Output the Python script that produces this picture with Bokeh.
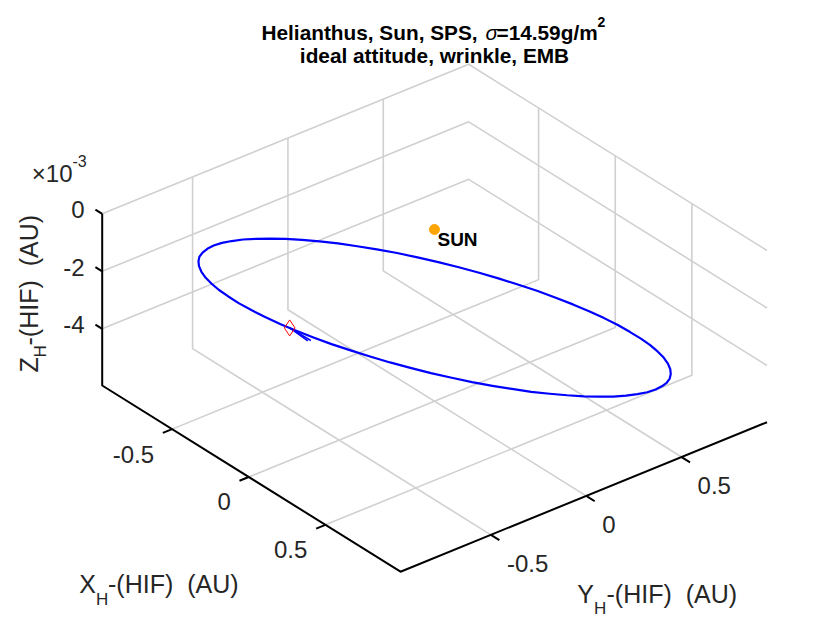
import numpy as np
from bokeh.plotting import figure
from bokeh.models import Range1d
from bokeh.embed import file_html
from bokeh.resources import INLINE
from bokeh.core.properties import value

# ---------------- data ----------------
title_line1_parts = ["Helianthus, Sun, SPS,", "σ", "=14.59g/m", "2"]
title_line2 = "ideal attitude, wrinkle, EMB"
axis_label_tail = "-(HIF)\u00a0 (AU)"

x_ticks = [-0.5, 0.0, 0.5]
x_tick_labels = ["-0.5", "0", "0.5"]
y_ticks = [-0.5, 0.0, 0.5]
y_tick_labels = ["-0.5", "0", "0.5"]
z_ticks_e3 = [0.0, -2.0, -4.0]          # units of 1e-3 AU
z_tick_labels = ["0", "-2", "-4"]

x_lim = [-0.956, 0.990]
y_lim = [-0.974, 0.948]
z_lim_e3 = [-5.97, 0.0]

# heliocentric trajectory (AU, z in 1e-3 AU)
orbit_x = [0.990, 0.986, 0.975, 0.957, 0.931, 0.899, 0.860, 0.814, 0.762, 0.705,
           0.642, 0.575, 0.504, 0.428, 0.350, 0.269, 0.186, 0.102, 0.017, -0.068,
           -0.152, -0.235, -0.316, -0.394, -0.470, -0.541, -0.608, -0.671, -0.728, -0.780,
           -0.826, -0.865, -0.897, -0.923, -0.941, -0.952, -0.956, -0.952, -0.941, -0.923,
           -0.897, -0.865, -0.826, -0.780, -0.728, -0.671, -0.608, -0.541, -0.470, -0.394,
           -0.316, -0.235, -0.152, -0.068, 0.017, 0.102, 0.186, 0.269, 0.350, 0.428,
           0.504, 0.575, 0.642, 0.705, 0.762, 0.814, 0.860, 0.899, 0.931, 0.957,
           0.975, 0.986, 0.990]
orbit_y = [-0.013, 0.071, 0.154, 0.236, 0.316, 0.393, 0.468, 0.538, 0.605, 0.667,
           0.723, 0.774, 0.819, 0.858, 0.890, 0.915, 0.933, 0.944, 0.948, 0.944,
           0.933, 0.915, 0.890, 0.858, 0.819, 0.774, 0.723, 0.667, 0.605, 0.538,
           0.468, 0.393, 0.316, 0.236, 0.154, 0.071, -0.013, -0.097, -0.180, -0.262,
           -0.342, -0.419, -0.494, -0.564, -0.631, -0.693, -0.749, -0.800, -0.845, -0.884,
           -0.916, -0.941, -0.959, -0.970, -0.974, -0.970, -0.959, -0.941, -0.916, -0.884,
           -0.845, -0.800, -0.749, -0.693, -0.631, -0.564, -0.494, -0.419, -0.342, -0.262,
           -0.180, -0.097, -0.013]
orbit_z_e3 = [-2.47, -2.72, -2.98, -3.23, -3.48, -3.73, -3.97, -4.20, -4.43, -4.64,
              -4.84, -5.03, -5.20, -5.35, -5.49, -5.60, -5.70, -5.78, -5.83, -5.86,
              -5.87, -5.86, -5.83, -5.77, -5.70, -5.60, -5.48, -5.35, -5.19, -5.02,
              -4.83, -4.63, -4.42, -4.19, -3.96, -3.72, -3.47, -3.22, -2.97, -2.71,
              -2.46, -2.21, -1.97, -1.74, -1.52, -1.30, -1.10, -0.91, -0.74, -0.59,
              -0.45, -0.34, -0.24, -0.17, -0.11, -0.08, -0.07, -0.08, -0.11, -0.17,
              -0.24, -0.34, -0.46, -0.59, -0.75, -0.92, -1.11, -1.31, -1.52, -1.75,
              -1.98, -2.22, -2.47]

sun_x, sun_y, sun_z_e3 = [0.0], [0.0], [0.0]
sun_label = "SUN"
start_x, start_y, start_z_e3 = [0.236], [-0.949], [-0.07]
arrow_dx = [0.134, 0.128]
arrow_dy = [0.003, -0.008]
arrow_dz_e3 = [0.0, 0.0]

# ---------------- layout of the projected box (screen px) ----------------
P0 = (101.7, 385.0)      # screen position of (xmin, ymin, zmin)
VX = (298.3, 186.2)      # screen span of the full x range
VY = (366.5, -149.5)     # screen span of the full y range
VZ = (0.0, -171.7)       # screen span of the full z range


def proj(x, y, z):
    x = np.asarray(x, float); y = np.asarray(y, float); z = np.asarray(z, float)
    u = (x - x_lim[0]) / (x_lim[1] - x_lim[0])
    v = (y - y_lim[0]) / (y_lim[1] - y_lim[0])
    w = (z - z_lim_e3[0]) / (z_lim_e3[1] - z_lim_e3[0])
    sx = P0[0] + u * VX[0] + v * VY[0] + w * VZ[0]
    sy = P0[1] + u * VX[1] + v * VY[1] + w * VZ[1]
    return sx, sy


W, H = 811, 623
p = figure(width=W, height=H, output_backend="svg", toolbar_location=None,
           x_range=Range1d(0, W), y_range=Range1d(H, 0),
           min_border=0)
p.axis.visible = False
p.grid.visible = False
p.outline_line_color = None
p.background_fill_color = "white"
p.border_fill_color = "white"

FONT = value("Liberation Sans")
x0, x1 = x_lim
y0, y1 = y_lim
z0, z1 = z_lim_e3

# ---------------- grid lines ----------------
grid_polys = []
for xt in x_ticks:
    grid_polys.append([(xt, y0, z0), (xt, y1, z0), (xt, y1, z1)])
for yt in y_ticks:
    grid_polys.append([(x1, yt, z0), (x0, yt, z0), (x0, yt, z1)])
for zt in z_ticks_e3:
    grid_polys.append([(x0, y0, zt), (x0, y1, zt), (x1, y1, zt)])
gxs, gys = [], []
for poly in grid_polys:
    a = np.array(poly)
    sx, sy = proj(a[:, 0], a[:, 1], a[:, 2])
    gxs.append(list(sx)); gys.append(list(sy))
p.multi_line(gxs, gys, line_color="#d0d0d0", line_width=1.6)

# ---------------- axis lines ----------------
ax3 = np.array([(x0, y0, z1), (x0, y0, z0), (x1, y0, z0), (x1, y1, z0)])
sx, sy = proj(ax3[:, 0], ax3[:, 1], ax3[:, 2])
p.line(sx, sy, line_color="black", line_width=2)


def unit(v):
    n = np.hypot(v[0], v[1])
    return (v[0] / n, v[1] / n)


# ticks
tick_x0, tick_y0, tick_x1, tick_y1 = [], [], [], []
dz = unit((-VX[0], -VX[1]))
zx, zy = proj([x0] * 3, [y0] * 3, z_ticks_e3)
for a, b in zip(zx, zy):
    tick_x0.append(a); tick_y0.append(b)
    tick_x1.append(a + 8 * dz[0]); tick_y1.append(b + 8 * dz[1])
dxv = unit((-VY[0], -VY[1]))
xx, xy = proj(x_ticks, [y0] * 3, [z0] * 3)
for a, b in zip(xx, xy):
    tick_x0.append(a); tick_y0.append(b)
    tick_x1.append(a + 10 * dxv[0]); tick_y1.append(b + 10 * dxv[1])
dyv = unit(VX)
yx, yy = proj([x1] * 3, y_ticks, [z0] * 3)
for a, b in zip(yx, yy):
    tick_x0.append(a); tick_y0.append(b)
    tick_x1.append(a + 10 * dyv[0]); tick_y1.append(b + 10 * dyv[1])
p.segment(tick_x0, tick_y0, tick_x1, tick_y1, line_color="black", line_width=2)

# tick labels
p.text(x=list(zx - 17.7), y=list(zy - 4), text=z_tick_labels, text_font=FONT,
       text_font_size=value("24px"), text_align="right", text_baseline="middle",
       text_color="#262626")
p.text(x=list(xx - 18), y=list(xy + 25), text=x_tick_labels, text_font=FONT,
       text_font_size=value("24px"), text_align="right", text_baseline="middle",
       text_color="#262626")
p.text(x=list(yx + 16), y=list(yy + 28.5), text=y_tick_labels, text_font=FONT,
       text_font_size=value("24px"), text_align="left", text_baseline="middle",
       text_color="#262626")

# exponent label
p.text(x=[72], y=[172.5], text=["×10"], text_font=FONT, text_font_size=value("24px"),
       text_align="right", text_baseline="middle", text_color="#262626")
p.text(x=[72], y=[160], text=["-3"], text_font=FONT, text_font_size=value("16px"),
       text_align="left", text_baseline="middle", text_color="#262626")

# ---------------- trajectory ----------------
ox, oy = proj(orbit_x, orbit_y, orbit_z_e3)
p.line(list(ox), list(oy), line_color="#0000FF", line_width=2.2, line_join="round")

sx0, sy0 = proj(start_x * 2, start_y * 2, start_z_e3 * 2)
ex, ey = proj(np.array(start_x * 2) + np.array(arrow_dx),
              np.array(start_y * 2) + np.array(arrow_dy),
              np.array(start_z_e3 * 2) + np.array(arrow_dz_e3))
p.segment(list(sx0), list(sy0), list(ex), list(ey), line_color="#0000FF", line_width=1.5)

dx_, dy_ = proj(start_x, start_y, start_z_e3)
p.scatter(list(dx_), list(dy_), marker="diamond", size=16, fill_color=None,
          line_color="#FF0000", line_width=1)

# sun
sxs, sys_ = proj(sun_x, sun_y, sun_z_e3)
p.scatter(list(sxs), list(sys_), marker="circle", size=10, fill_color="#FFA500",
          line_color="#FFA500")
p.text(x=list(sxs + 3), y=list(sys_ + 10), text=[sun_label], text_font=FONT,
       text_font_size=value("19px"), text_font_style="bold", text_align="left",
       text_baseline="alphabetic", text_color="black")

# ---------------- titles and axis labels ----------------
p.text(x=[261, 485, 496], y=[31.5, 31.5, 31.5], text=title_line1_parts[:3], text_font=FONT,
       text_font_size=value("20.8px"), text_font_style=["bold", "italic", "bold"],
       text_align="left", text_baseline="alphabetic", text_color="black")
p.text(x=[597], y=[21.5], text=[title_line1_parts[3]], text_font=FONT,
       text_font_size=value("14px"), text_font_style="bold",
       text_align="left", text_baseline="alphabetic", text_color="black")
p.text(x=[434], y=[55], text=[title_line2], text_font=FONT,
       text_font_size=value("20.8px"), text_font_style="bold", text_align="center",
       text_baseline="alphabetic", text_color="black")

lab = "#262626"
# X label
p.text(x=[78.7], y=[583.3], text=["X"], text_font=FONT, text_font_size=value("25px"),
       text_align="left", text_baseline="middle", text_color=lab)
p.text(x=[95.5], y=[599], text=["H"], text_font=FONT, text_font_size=value("17px"),
       text_align="left", text_baseline="middle", text_color=lab)
p.text(x=[107.5], y=[583.3], text=[axis_label_tail], text_font=FONT,
       text_font_size=value("25px"), text_align="left", text_baseline="middle", text_color=lab)
# Y label
p.text(x=[576.7], y=[593.3], text=["Y"], text_font=FONT, text_font_size=value("25px"),
       text_align="left", text_baseline="middle", text_color=lab)
p.text(x=[593.5], y=[608], text=["H"], text_font=FONT, text_font_size=value("17px"),
       text_align="left", text_baseline="middle", text_color=lab)
p.text(x=[606], y=[593.3], text=[axis_label_tail], text_font=FONT,
       text_font_size=value("25px"), text_align="left", text_baseline="middle", text_color=lab)
# Z label (rotated)
p.text(x=[28.5], y=[372], text=["Z"], text_font=FONT, text_font_size=value("25px"),
       text_align="left", text_baseline="middle", angle=np.pi / 2, text_color=lab)
p.text(x=[40], y=[357], text=["H"], text_font=FONT, text_font_size=value("17px"),
       text_align="left", text_baseline="middle", angle=np.pi / 2, text_color=lab)
p.text(x=[28.5], y=[345], text=[axis_label_tail], text_font=FONT,
       text_font_size=value("25px"), text_align="left", text_baseline="middle",
       angle=np.pi / 2, text_color=lab)

open("out.html", "w").write(file_html(p, INLINE))
